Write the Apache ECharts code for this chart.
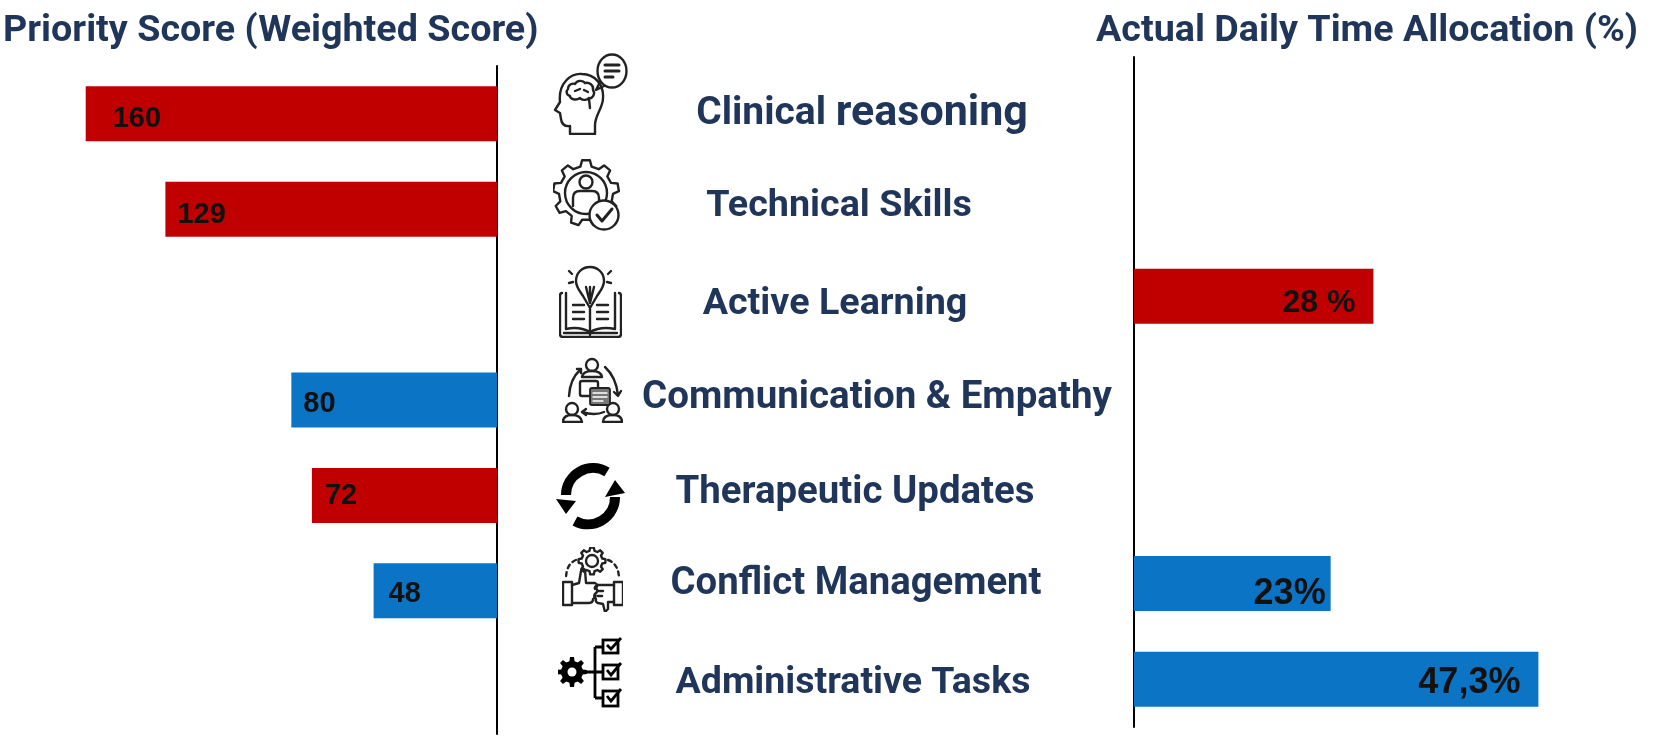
<!DOCTYPE html>
<html><head><meta charset="utf-8">
<style>html,body{margin:0;padding:0;background:#fff}#c{width:1665px;height:742px}</style>
<script src="https://cdn.jsdelivr.net/npm/echarts@6/dist/echarts.min.js"></script>
</head><body><div id="c"></div>
<script>
// ---- data ----
const categories = ['Clinical reasoning','Technical Skills','Active Learning','Communication & Empathy','Therapeutic Updates','Conflict Management','Administrative Tasks'];
const priorityScore = [160,129,null,80,72,48,null];
const timeAllocation = [null,null,28,null,null,23,47.3];
const timeLabels = ['','','28 %','','','23%','47,3%'];
const leftTitle = 'Priority Score (Weighted Score)';
const rightTitle = 'Actual Daily Time Allocation (%)';

// ---- styling ----
const RED='#C00000', BLUE='#0B74C4', NAVY='#1F3559', INK='#111';
const barColors=[RED,RED,RED,BLUE,RED,BLUE,BLUE];
const FONT='Roboto';
const leftLabelOff=[[27,5],[12,6],null,[12,4],[13,1],[15,3],null];
const rightLabelOff=[null,null,[-18,7],null,null,[-5,11],[-18,4]];
const rightLabelSize=[0,0,32,0,0,36,36];
const nameX=[862,839,835,877,855,856,853];
const nameDy=[1,-3,0,-2,-2,-6,-3];
const nameSize=[39,37.7,37.7,38.5,38.4,38.3,37.5];

// ---- icons ----
function gear(cx,cy,ro,ri,n){let d='';const st=Math.PI*2/n;for(let i=0;i<n;i++){const a=i*st-Math.PI/2;
 const p=[[a-st*.30,ri],[a-st*.17,ro],[a+st*.17,ro],[a+st*.30,ri]];
 p.forEach((q,k)=>{d+=(i==0&&k==0?'M':'L')+(cx+q[1]*Math.cos(q[0])).toFixed(1)+' '+(cy+q[1]*Math.sin(q[0])).toFixed(1)});}
 return d+'Z';}
const S='fill="none" stroke="#222" stroke-width="2.4" stroke-linejoin="round" stroke-linecap="round"';
const icons=[
{x:553,y:53,w:75,h:82,b:`<g ${S}><ellipse cx="59" cy="18" rx="14.5" ry="16.5"/><path d="M47 29L43 37L51 33"/><path d="M52 12H66M52 18H66M52 24H60" stroke-width="3"/>
<path d="M17 81V73Q9 74 8 66L7 60L2 57L7 49C5 30 18 20 29 21C42 21 51 32 50 45C50 55 42 62 42 72V81Z"/>
<path d="M15 36C15 31 20 30 22 31C24 27 30 27 32 30C36 29 41 32 40 37C43 41 39 46 36 45C34 48 28 47 27 45C23 48 17 46 17 43C13 42 13 38 15 36Z"/><path d="M22 38L27 36M31 37L35 39M36 46L37 55" /></g>`},
{x:553,y:158,w:67,h:74,b:`<g ${S}><path d="${gear(33,35,33,27,9)}"/><circle cx="33" cy="35" r="21"/><circle cx="33" cy="24" r="6.5"/><path d="M20 48V40Q20 33 27 33H39Q46 33 46 40V48"/>
<circle cx="51" cy="57" r="14.5" fill="#fff"/><path d="M44 57L49 63L59 51" stroke-width="3"/></g>`},
{x:559,y:263,w:63,h:75,b:`<g ${S}><path d="M3 30Q1 30 1 33V71Q1 74 4 74H59Q62 74 62 71V33Q62 30 60 30"/><path d="M7 30V66Q20 63 31 69Q42 63 56 66V30"/><path d="M31 46V72"/>
<path d="M14 42H25M14 49H25M14 56H25M38 42H49M38 49H49M38 56H49M5 70H58"/>
<path d="M24 33C20 27 17 24 17 18C17 10 23 4 31 4C39 4 45 10 45 18C45 24 42 27 38 33L31 45Z" fill="#fff"/><path d="M27 24L31 40L35 24M31 24V40"/>
<path d="M10 8L13 11M52 8L49 11M10 20L14 19M52 20L48 19"/></g>`},
{x:562,y:357,w:61,h:66,b:`<g ${S}><circle cx="30" cy="8" r="6"/><path d="M20 20Q21 14 30 14Q39 14 40 20Z"/><circle cx="10" cy="52" r="6"/><path d="M1 65Q1 58 10 58Q19 58 20 65Z"/><circle cx="51" cy="52" r="6"/><path d="M41 65Q41 58 51 58Q60 58 60 65Z"/>
<path d="M7 39Q8 22 18 13M15 12H19V16"/><path d="M43 10Q54 20 56 38M52 35L56 39L59 34"/><path d="M42 55Q33 59 20 55M24 52L20 55L24 58"/>
<rect x="18" y="24" width="18" height="15" rx="2"/><rect x="28" y="31" width="20" height="17" rx="2" fill="#777" stroke-width="1.8"/><path d="M31 36H45M31 40H45M31 44H41" stroke="#fff" stroke-width="1.3"/></g>`},
{x:556,y:463,w:69,h:67,b:`<g fill="none" stroke="#000" stroke-width="10"><path d="M51 9A27 27 0 0 0 10 32"/><path d="M19 58A27 27 0 0 0 59 34"/></g><path d="M0 36L20 38L10 51ZM49 34L69 30L59 17Z" fill="#000"/>`},
{x:562,y:547,w:61,h:65,b:`<g ${S}><path d="${gear(30,14,13.5,10.5,8)}"/><circle cx="30" cy="14" r="6"/><path d="M14 13Q4 17 4 32M46 13Q57 17 57 32" stroke-dasharray="4 4"/>
<rect x="1" y="35" width="9" height="23"/><rect x="52" y="35" width="9" height="23"/>
<path d="M10 38L17 36L19 24Q21 20 23 23L24 36H33Q37 38 34 41Q37 44 33 47Q35 50 31 52Q31 56 27 56H10"/>
<path d="M52 38H35Q32 40 33 42M33 47Q31 50 34 52Q33 55 36 56L41 57L43 65L46 62L46 55L52 55"/><path d="M36 44H41M36 49H40" /></g>`},
{x:558,y:637,w:65,h:71,b:`<path d="${gear(14,35,15,11,8)}" fill="#000"/><circle cx="14" cy="35" r="8" fill="#000"/><circle cx="14" cy="35" r="4.5" fill="#fff"/>
<g fill="none" stroke="#000" stroke-width="2.8"><path d="M26 35H45M37 10V61M37 10H45M37 61H45"/><rect x="45" y="3" width="15" height="13"/><rect x="45" y="28" width="15" height="14"/><rect x="45" y="54" width="15" height="15"/>
<path d="M49 8L53 12L63 1M49 33L53 38L63 26M49 59L53 64L63 52"/></g>`}
];
const iconGraphics=icons.map(ic=>({type:'image',x:ic.x,y:ic.y,style:{width:ic.w,height:ic.h,
 image:'data:image/svg+xml;charset=utf-8,'+encodeURIComponent(`<svg xmlns="http://www.w3.org/2000/svg" width="${ic.w}" height="${ic.h}" viewBox="0 0 ${ic.w} ${ic.h}">${ic.b}</svg>`)}}));

// ---- chart ----
const chart=echarts.init(document.getElementById('c'),null,{renderer:'canvas'});
const nameLabel=(n)=>n==='Clinical reasoning'?'{a|Clinical} {b|reasoning}':n;
const catAxis=(grid,show)=>({type:'category',gridIndex:grid,inverse:true,data:categories,
 axisLine:{show:show,onZero:true,lineStyle:{color:'#000',width:2}},axisTick:{show:false},axisLabel:{show:false},splitLine:{show:false}});
const valAxis=(grid,o)=>Object.assign({type:'value',gridIndex:grid,show:false,splitLine:{show:false}},o);
chart.setOption({
 animation:false,backgroundColor:'#fff',
 title:[
  {text:leftTitle,left:3,top:13,padding:0,textStyle:{fontFamily:FONT,fontWeight:'bold',fontSize:37.7,color:NAVY}},
  {text:rightTitle,left:1096,top:13,padding:0,textStyle:{fontFamily:FONT,fontWeight:'bold',fontSize:37.7,color:NAVY}}
 ],
 grid:[
  {left:60,width:437,top:66,height:668},
  {left:1134,width:427.5,top:57,height:670},
  {left:0,width:1665,top:66,height:668}
 ],
 xAxis:[valAxis(0,{min:0,max:170,inverse:true}),valAxis(1,{min:0,max:50}),valAxis(2,{min:0,max:1665})],
 yAxis:[catAxis(0,true),catAxis(1,true),catAxis(2,false)],
 series:[
  {type:'bar',name:leftTitle,xAxisIndex:0,yAxisIndex:0,barWidth:55,
   data:priorityScore.map((v,i)=>({value:v,itemStyle:{color:barColors[i]},
    label:v==null?{show:false}:{show:true,position:'insideLeft',distance:0,offset:leftLabelOff[i],
     fontFamily:'Liberation Sans',fontWeight:'bold',fontSize:29,color:INK}}))},
  {type:'bar',name:rightTitle,xAxisIndex:1,yAxisIndex:1,barWidth:55,
   data:timeAllocation.map((v,i)=>({value:v,itemStyle:{color:barColors[i]},
    label:v==null?{show:false}:{show:true,position:'insideRight',distance:0,offset:rightLabelOff[i],formatter:timeLabels[i],
     fontFamily:'Liberation Sans',fontWeight:'bold',fontSize:rightLabelSize[i],color:INK}}))},
  {type:'scatter',name:'Skills',xAxisIndex:2,yAxisIndex:2,symbolSize:1,itemStyle:{color:'transparent',opacity:1},silent:true,
   data:categories.map((c,i)=>({value:[nameX[i],c],
    label:{show:true,position:'inside',offset:[0,nameDy[i]],formatter:nameLabel(c),align:'center',verticalAlign:'middle',
     fontFamily:FONT,fontWeight:'bold',fontSize:nameSize[i],color:NAVY,
     rich:{a:{fontFamily:FONT,fontWeight:'bold',fontSize:39,color:NAVY},b:{fontFamily:FONT,fontWeight:'bold',fontSize:43,color:NAVY}}}}))}
 ],
 graphic:iconGraphics
});
</script></body></html>
